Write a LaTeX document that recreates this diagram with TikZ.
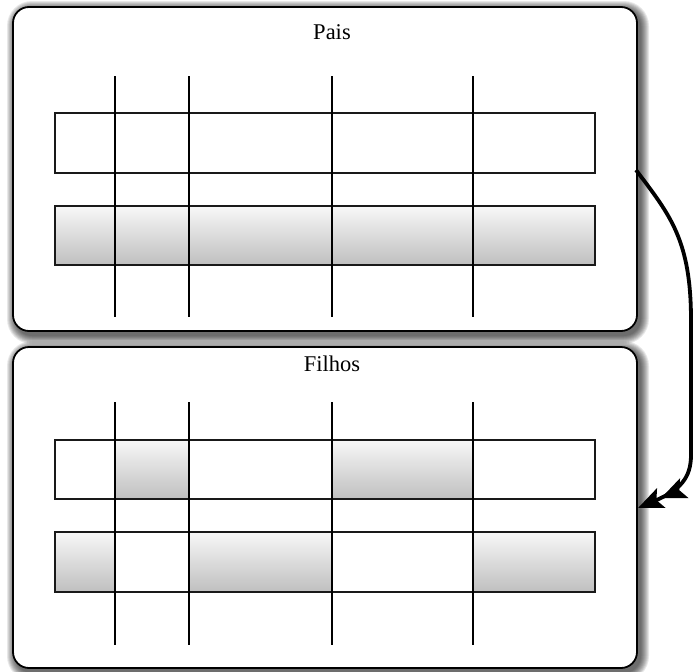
\documentclass[tikz,border=0pt]{standalone}
\usepackage{fontspec}
\setmainfont{Liberation Serif}
\usetikzlibrary{arrows.meta}
\tikzset{
  panel/.style={draw=black,line width=1.8pt,rounded corners=16pt,fill=white},
  shadowlayer/.style={fill=black,fill opacity=0.09,draw=none},
  rowbox/.style={draw=black!90,line width=1.4pt},
  shaded/.style={top color=white!97!black,bottom color=black!25},
  vline/.style={draw=black,line width=1.1pt},
  ttl/.style={font=\fontsize{22.5}{26}\selectfont,inner sep=0pt,anchor=base},
  link/.style={draw=black,line width=3.8pt,-{Stealth[length=25pt,width=21pt,inset=5pt]Stealth[length=25pt,width=21pt,inset=5pt]}}
}
\newcommand\panelshadow[4]{%
  \foreach \i in {1,...,9}{%
    \fill[shadowlayer,rounded corners=16+\i] (#1+3-\i,#2+3-\i) rectangle (#3+3+\i,#4+4+\i);
  }}
\begin{document}
\begin{tikzpicture}[x=1pt,y=-1pt]
\useasboundingbox (0,0) rectangle (694,672);
% shadows
\panelshadow{13}{7}{637}{331}
\panelshadow{13}{347}{637}{668}
% panels
\draw[panel] (13,7) rectangle (637,331);
\draw[panel] (13,347) rectangle (637,668);
\node[ttl] (pais) at (332,39) {Pais};
\node[ttl] (filhos) at (332,371) {Filhos};
% top table
\fill[shaded] (55,206) rectangle (595,265);
\draw[rowbox] (55,113) rectangle (595,173);
\draw[rowbox] (55,206) rectangle (595,265);
\foreach \x in {115,189,332,473} \draw[vline] (\x,76) -- (\x,317);
% bottom table
\fill[shaded] (115,440) rectangle (189,499);
\fill[shaded] (332,440) rectangle (473,499);
\fill[shaded] (55,532) rectangle (115,592);
\fill[shaded] (189,532) rectangle (332,592);
\fill[shaded] (473,532) rectangle (595,592);
\draw[rowbox] (55,440) rectangle (595,499);
\draw[rowbox] (55,532) rectangle (595,592);
\foreach \x in {115,189,332,473} \draw[vline] (\x,402) -- (\x,645);
% connector
\coordinate (s) at (636,170);
\coordinate (e) at (638,508);
\draw[link] (s) .. controls (670,215) and (691,240) .. (691,320)
  -- (691,455) .. controls (691,478) and (680,490) .. (e);
\end{tikzpicture}
\end{document}
